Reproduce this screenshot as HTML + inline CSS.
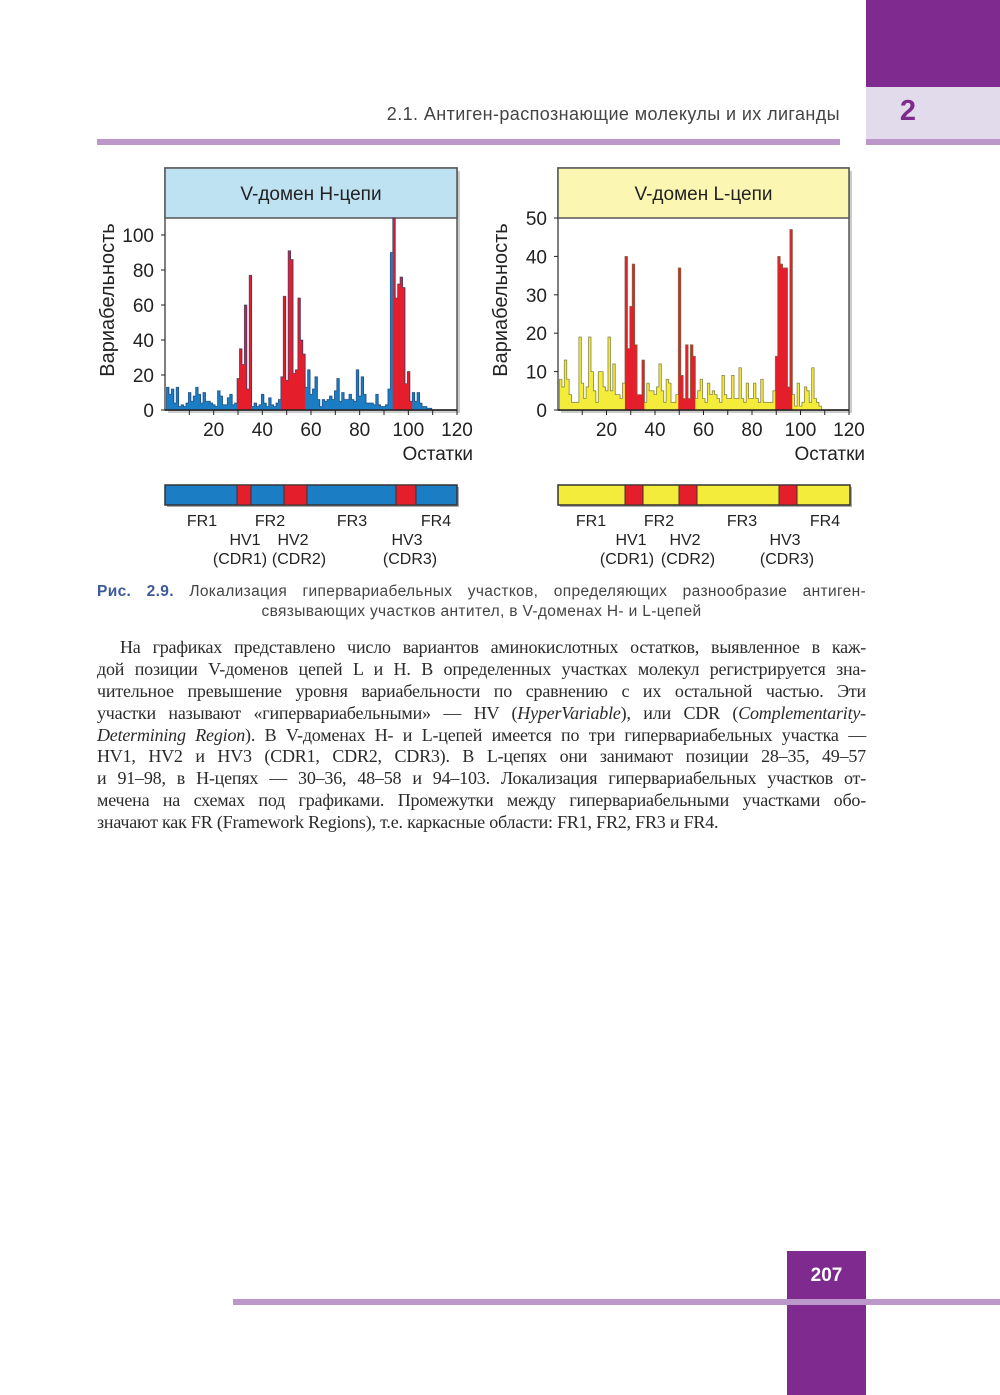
<!DOCTYPE html>
<html><head><meta charset="utf-8">
<style>
body{margin:0;width:1000px;height:1395px;position:relative;background:#fff;overflow:hidden;font-family:"Liberation Sans",sans-serif}
.abs{position:absolute}
.body{position:absolute;left:97px;width:769px;font-family:"Liberation Serif",serif;font-size:18px;letter-spacing:-0.2px;color:#2a2a2a}
.body div{height:21.9px;line-height:21.9px;text-align:justify;text-align-last:justify;white-space:nowrap}
</style></head><body>
<div class="abs" style="left:866px;top:0;width:134px;height:87px;background:#7e2a8e"></div>
<div class="abs" style="left:866px;top:87px;width:134px;height:52px;background:#e2dbec"></div>
<div class="abs" style="left:866px;top:139px;width:134px;height:6px;background:#bb98c9"></div>
<div class="abs" style="left:97px;top:139px;width:743px;height:6px;background:#bb98c9"></div>
<div class="abs" style="left:300px;width:540px;top:104px;text-align:right;font-size:18px;letter-spacing:0.4px;color:#444">2.1. Антиген-распознающие молекулы и их лиганды</div>
<div class="abs" style="left:866px;width:84px;top:95px;text-align:center;font-size:29px;font-weight:bold;color:#7e2a8e">2</div>

<svg class="abs" style="left:0;top:0" width="1000" height="640" id="svg" font-family="Liberation Sans, sans-serif">
</svg>

<div class="abs" style="left:97px;width:769px;top:583px;font-size:15.5px;letter-spacing:0.35px;color:#444;text-align:justify;text-align-last:justify;white-space:nowrap"><b style="color:#3c5a9a">Рис. 2.9.</b> Локализация гипервариабельных участков, определяющих разнообразие антиген-</div>
<div class="abs" style="left:97px;width:769px;top:603px;font-size:15.5px;letter-spacing:0.35px;color:#444;text-align:center">связывающих участков антител, в V-доменах H- и L-цепей</div>

<div class="body" style="top:637px">
<div style="padding-left:23px">На графиках представлено число вариантов аминокислотных остатков, выявленное в каж-</div>
<div>дой позиции V-доменов цепей L и H. В определенных участках молекул регистрируется зна-</div>
<div>чительное превышение уровня вариабельности по сравнению с их остальной частью. Эти</div>
<div>участки называют «гипервариабельными» — HV (<i>HyperVariable</i>), или CDR (<i>Complementarity-</i></div>
<div><i>Determining Region</i>). В V-доменах H- и L-цепей имеется по три гипервариабельных участка —</div>
<div>HV1, HV2 и HV3 (CDR1, CDR2, CDR3). В L-цепях они занимают позиции 28–35, 49–57</div>
<div>и 91–98, в H-цепях — 30–36, 48–58 и 94–103. Локализация гипервариабельных участков от-</div>
<div>мечена на схемах под графиками. Промежутки между гипервариабельными участками обо-</div>
<div style="text-align:left;text-align-last:left">значают как FR (Framework Regions), т.е. каркасные области: FR1, FR2, FR3 и FR4.</div>
</div>

<div class="abs" style="left:787px;top:1251px;width:79px;height:144px;background:#7e2a8e"></div>
<div class="abs" style="left:233px;top:1299px;width:767px;height:6px;background:#bb98c9"></div>
<div class="abs" style="left:787px;top:1265px;width:79px;text-align:center;color:#fff;font-weight:bold;font-size:19px">207</div>

<script>
var H=[13,9,12,4,13,2,3,2,4,10,5,8,13,9,4,10,5,5,4,3,2,11,8,3,3,7,9,3,4,18,35,26,60,12,77,2,4,2,3,9,4,2,7,3,2,4,6,19,65,17,91,86,21,23,64,40,32,13,23,9,12,19,6,2,6,5,6,8,6,11,18,5,10,6,6,9,6,5,23,8,19,9,4,4,4,3,9,3,2,2,3,12,90,110,64,72,76,70,15,22,5,10,5,10,4,2,2,1,1];
var Hred=function(i){return (i>=30&&i<=35)||(i>=48&&i<=57)||(i>=94&&i<=101);};
var L=[8,6,13,8,4,2,2,2,19,7,3,6,19,10,5,2,10,10,6,5,19,5,12,4,4,3,7,40,16,27,38,17,4,4,13,2,7,5,5,4,6,12,5,2,8,7,2,2,4,37,9,3,17,3,17,14,3,5,8,3,2,7,4,5,4,3,2,9,4,3,3,9,3,3,11,3,2,7,3,3,7,3,2,8,2,2,2,2,5,14,40,38,37,37,6,47,4,1,7,1,2,6,5,2,11,3,2,1];
var Lred=function(i){return (i>=28&&i<=35)||(i>=50&&i<=56)||(i>=90&&i<=96);};
var s='';
function chart(x0,x1,top,base,ymax,yticks,data,isRed,col,dark,title,hcol){
 var w=(x1-x0)/120, k=(base-(top+50))/ymax;
 s+='<rect x="'+(x0+3)+'" y="'+(top+3)+'" width="'+(x1-x0)+'" height="'+(base-top)+'" fill="#ccc"/>';
 s+='<rect x="'+x0+'" y="'+top+'" width="'+(x1-x0)+'" height="'+(base-top)+'" fill="#fff" stroke="#555" stroke-width="1.5"/>';
 s+='<rect x="'+x0+'" y="'+top+'" width="'+(x1-x0)+'" height="50" fill="'+hcol+'" stroke="#555" stroke-width="1.5"/>';
 s+='<text x="'+((x0+x1)/2)+'" y="'+(top+32)+'" font-size="19" text-anchor="middle" fill="#222">'+title+'</text>';
 for(var i=0;i<data.length;i++){
  var r=isRed(i+1), v=Math.min(data[i],ymax*1.0);
  var xx=x0+w*(i+0.6), hh=v*k;
  s+='<rect x="'+xx.toFixed(2)+'" y="'+(base-hh).toFixed(2)+'" width="'+(w+0.4).toFixed(2)+'" height="'+hh.toFixed(2)+'" fill="'+(r?'#e41e2b':col)+'"/>';
 }
 var d='M'+(x0+w*0.6)+' '+base;
 for(var i=0;i<data.length;i++){var xx=x0+w*(i+0.6),y=base-Math.min(data[i],ymax)*k;d+=' L'+xx.toFixed(2)+' '+y.toFixed(2)+' L'+(xx+w).toFixed(2)+' '+y.toFixed(2);}
 d+=' L'+(x0+w*(data.length+0.6)).toFixed(2)+' '+base;
 s+='<path d="'+d+'" fill="none" stroke="'+dark+'" stroke-width="0.8" stroke-opacity="0.8"/>';
 s+='<line x1="'+x0+'" y1="'+base+'" x2="'+x1+'" y2="'+base+'" stroke="#222" stroke-width="1.5"/>';
 for(var t=10;t<=120;t+=10){var tx=x0+t*w;s+='<line x1="'+tx+'" y1="'+base+'" x2="'+tx+'" y2="'+(base+5)+'" stroke="#222"/>';}
 for(var t=20;t<=120;t+=20){s+='<text x="'+(x0+t*w)+'" y="'+(base+26)+'" font-size="19" text-anchor="middle" fill="#222">'+t+'</text>';}
 for(var j=0;j<yticks.length;j++){var v=yticks[j],y=base-v*k;s+='<text x="'+(x0-11)+'" y="'+(y+7)+'" font-size="19" text-anchor="end" fill="#222">'+v+'</text>';s+='<line x1="'+(x0-4)+'" y1="'+y+'" x2="'+x0+'" y2="'+y+'" stroke="#222"/>';}
 s+='<text x="'+(x1+16)+'" y="'+(base+50)+'" font-size="19" text-anchor="end" fill="#222">Остатки</text>';
 s+='<text transform="translate('+(x0-51)+' 300) rotate(-90)" font-size="20" text-anchor="middle" fill="#222">Вариабельность</text>';
}
chart(165,457,168,410,(410-218)/1.75,[0,20,40,60,80,100],H,Hred,'#1b7dc4','#1a3f70','V-домен H-цепи','#bfe2f2');
chart(558,849,168,410,50,[0,10,20,30,40,50],L,Lred,'#f4ec3a','#6e6a40','V-домен L-цепи','#fbf7b2');
function bar(x0,x1,col,reds,labels){
 s+='<rect x="'+(x0+2)+'" y="487" width="'+(x1-x0)+'" height="20" fill="#aaa"/>';
 s+='<rect x="'+x0+'" y="485" width="'+(x1-x0)+'" height="20" fill="'+col+'" stroke="#333" stroke-width="1.5"/>';
 reds.forEach(function(r){s+='<rect x="'+r[0]+'" y="485" width="'+(r[1]-r[0])+'" height="20" fill="#e41e2b" stroke="#333" stroke-width="1"/>';});
 labels.forEach(function(l){s+='<text x="'+l[0]+'" y="'+l[1]+'" font-size="16" text-anchor="middle" fill="#222">'+l[2]+'</text>';});
}
bar(165,457,'#1b7dc4',[[237,251],[284,307],[396,416]],[[202,526,'FR1'],[270,526,'FR2'],[352,526,'FR3'],[436,526,'FR4'],[245,545,'HV1'],[293,545,'HV2'],[407,545,'HV3'],[240,564,'(CDR1)'],[299,564,'(CDR2)'],[410,564,'(CDR3)']]);
bar(558,850,'#f4ec3a',[[625,643],[679,697],[779,797]],[[591,526,'FR1'],[659,526,'FR2'],[742,526,'FR3'],[825,526,'FR4'],[631,545,'HV1'],[685,545,'HV2'],[785,545,'HV3'],[627,564,'(CDR1)'],[688,564,'(CDR2)'],[787,564,'(CDR3)']]);
document.getElementById('svg').innerHTML=s;
</script>
</body></html>
